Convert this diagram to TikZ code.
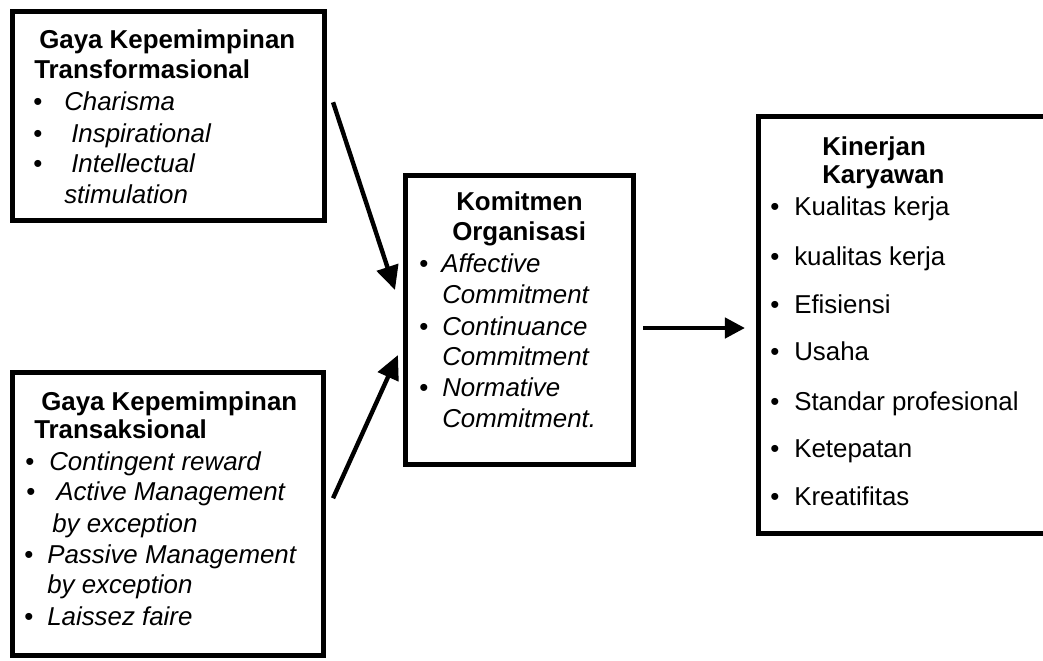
\documentclass[tikz,border=0pt]{standalone}
\usepackage{fontspec}
\setmainfont{Liberation Sans}
\usetikzlibrary{arrows.meta}
\newcommand{\txtsize}{\fontsize{18.4pt}{22pt}\selectfont}

\begin{document}
\begin{tikzpicture}[x=0.025cm, y=-0.025cm,
    box/.style={draw, line width=0.125cm, inner sep=0pt},
    ttl/.style={anchor=base west, inner sep=0pt, font=\txtsize\bfseries},
    itm/.style={anchor=base west, inner sep=0pt, font=\txtsize\itshape},
    upr/.style={anchor=base west, inner sep=0pt, font=\txtsize},
    bul/.style={anchor=base, inner sep=0pt, font=\txtsize},
    arr/.style={line width=0.11cm, -{Triangle[length=0.5cm,width=0.5cm]}},
    bigarr/.style={line width=0.11cm, -{Triangle[length=0.6cm,width=0.55cm]}}]

    \useasboundingbox (0,0) rectangle (1043,660);
    \clip (0,0) rectangle (1043,660);

    \node[box, minimum width=7.8cm, minimum height=5.2125cm] (trans) at (168.5,116.25) {};
    \node[box, minimum width=7.75cm, minimum height=7.0625cm] (transak) at (168,514.25) {};
    \node[box, minimum width=5.6875cm, minimum height=7.225cm] (komit) at (519.25,320) {};
    \node[box, minimum width=7.5375cm, minimum height=10.425cm] (kinerja) at (909.25,325) {};

    % transformasional
    \node[ttl] (tr1) at (39,48) {Gaya Kepemimpinan};
    \node[ttl] (tr2) at (34,78) {Transformasional};
    \foreach \y [count=\i] in {110,142,172}
        \node[bul] (trb\i) at (38,\y) {\textbullet};
    \node[itm] (tr3) at (64,110) {Charisma};
    \node[itm] (tr4) at (71,142) {Inspirational};
    \node[itm] (tr5) at (71,172) {Intellectual};
    \node[itm] (tr6) at (64,203) {stimulation};

    % transaksional
    \node[ttl] (ts1) at (41,410) {Gaya Kepemimpinan};
    \node[ttl] (ts2) at (34,438) {Transaksional};
    \foreach \x/\y [count=\i] in {30/470,31/500,29/563,29/625}
        \node[bul] (tsb\i) at (\x,\y) {\textbullet};
    \node[itm] (ts3) at (49,470) {Contingent reward};
    \node[itm] (ts4) at (56,500) {Active Management};
    \node[itm] (ts5) at (52,532) {by exception};
    \node[itm] (ts6) at (47,563) {Passive Management};
    \node[itm] (ts7) at (47,593) {by exception};
    \node[itm] (ts8) at (47,625) {Laissez faire};

    % komitmen
    \node[ttl] (ko1) at (456,210) {Komitmen};
    \node[ttl] (ko2) at (452,240) {Organisasi};
    \foreach \y [count=\i] in {272,335,396}
        \node[bul] (kob\i) at (424,\y) {\textbullet};
    \node[itm] (ko3) at (441,272) {Affective};
    \node[itm] (ko4) at (442,303) {Commitment};
    \node[itm] (ko5) at (442,335) {Continuance};
    \node[itm] (ko6) at (442,365) {Commitment};
    \node[itm] (ko7) at (442,396) {Normative};
    \node[itm] (ko8) at (442,427) {Commitment.};

    % kinerja
    \node[ttl] (ki1) at (822,155) {Kinerjan};
    \node[ttl] (ki2) at (822,183) {Karyawan};
    \foreach \y/\t [count=\i] in {215/Kualitas kerja, 265/kualitas kerja, 313/Efisiensi,
        360/Usaha, 410/Standar profesional, 457/Ketepatan, 505/Kreatifitas}
    {
        \node[bul] (kib\i) at (775,\y) {\textbullet};
        \node[upr] (kit\i) at (794,\y) {\t};
    }

    \draw[bigarr] ([shift={(6,-14)}]trans.east) -- ([shift={(-8,-30)}]komit.west);
    \draw[bigarr] ([shift={(7.5,-16)}]transak.east) -- ([shift={(-5,35)}]komit.west);
    \draw[arr] ([shift={(7.5,8)}]komit.east) -- ([shift={(-11,3)}]kinerja.west);
\end{tikzpicture}
\end{document}
